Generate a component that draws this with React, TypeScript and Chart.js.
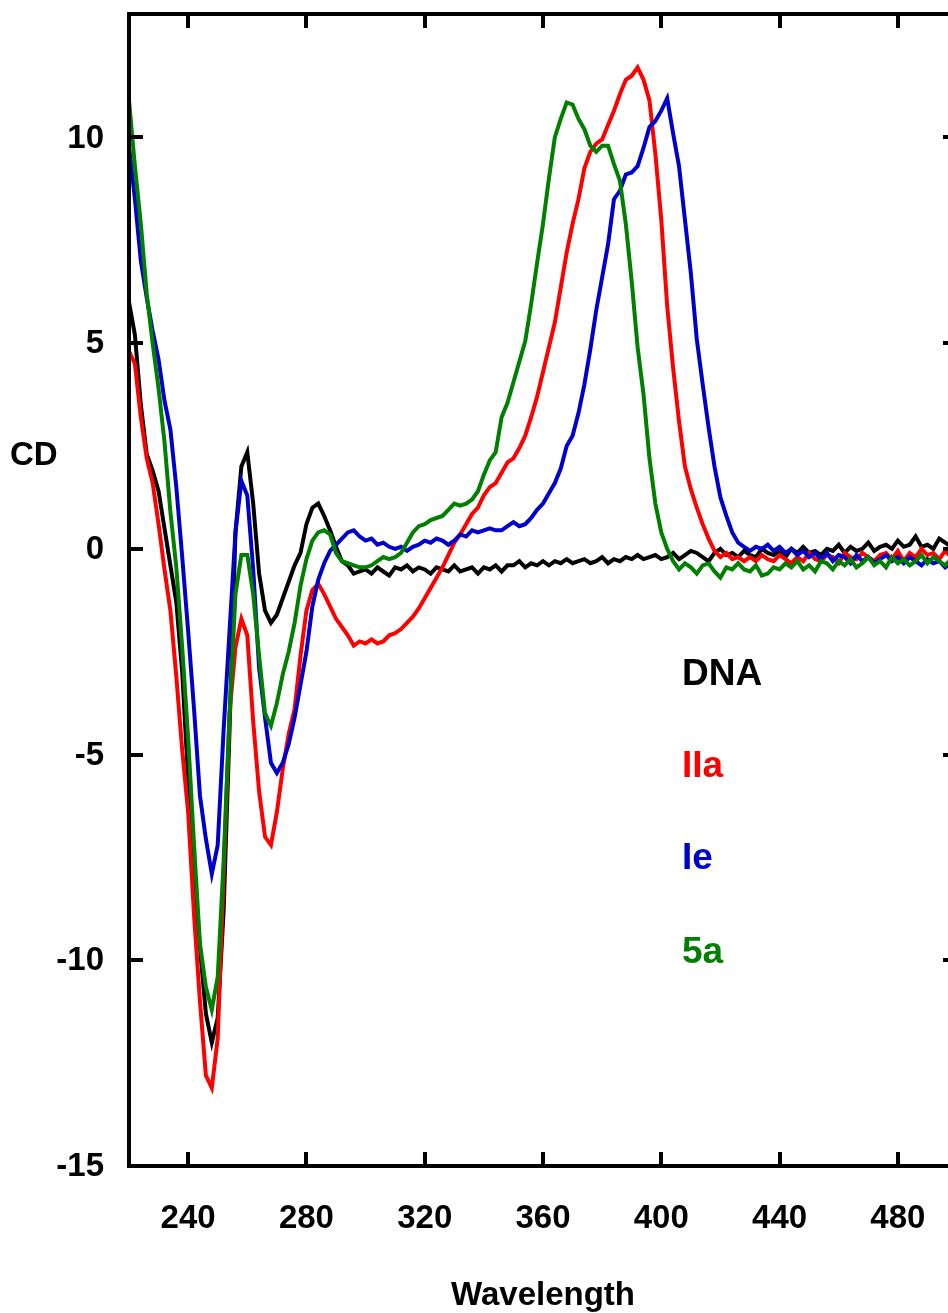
import { useEffect, useRef } from "react";
import { Chart, registerables } from "chart.js";

Chart.register(...registerables);

const wavelengths = [
  220, 222, 224, 226, 228, 230, 232, 234, 236, 238,
  240, 242, 244, 246, 248, 250, 252, 254, 256, 258,
  260, 262, 264, 266, 268, 270, 272, 274, 276, 278,
  280, 282, 284, 286, 288, 290, 292, 294, 296, 298,
  300, 302, 304, 306, 308, 310, 312, 314, 316, 318,
  320, 322, 324, 326, 328, 330, 332, 334, 336, 338,
  340, 342, 344, 346, 348, 350, 352, 354, 356, 358,
  360, 362, 364, 366, 368, 370, 372, 374, 376, 378,
  380, 382, 384, 386, 388, 390, 392, 394, 396, 398,
  400, 402, 404, 406, 408, 410, 412, 414, 416, 418,
  420, 422, 424, 426, 428, 430, 432, 434, 436, 438,
  440, 442, 444, 446, 448, 450, 452, 454, 456, 458,
  460, 462, 464, 466, 468, 470, 472, 474, 476, 478,
  480, 482, 484, 486, 488, 490, 492, 494, 496, 498,
  500,
];

const dnaCD = [
  6.0, 5.2, 3.5, 2.3, 1.9, 1.4, 0.5, -0.4, -1.3, -3.0,
  -5.6, -7.9, -9.7, -11.3, -12.0, -11.4, -8.8, -4.4, 0.4, 2.0,
  2.35, 1.1, -0.6, -1.5, -1.8, -1.6, -1.2, -0.8, -0.4, -0.1,
  0.6, 1.0, 1.1, 0.8, 0.45, 0.05, -0.3, -0.4, -0.6, -0.55,
  -0.5, -0.6, -0.45, -0.55, -0.65, -0.45, -0.5, -0.4, -0.55, -0.45,
  -0.5, -0.6, -0.45, -0.5, -0.55, -0.4, -0.55, -0.5, -0.45, -0.6,
  -0.45, -0.5, -0.4, -0.55, -0.4, -0.4, -0.3, -0.45, -0.35, -0.4,
  -0.3, -0.4, -0.3, -0.35, -0.25, -0.35, -0.3, -0.25, -0.35, -0.3,
  -0.2, -0.35, -0.25, -0.3, -0.2, -0.25, -0.15, -0.25, -0.2, -0.15,
  -0.25, -0.2, -0.1, -0.25, -0.15, -0.05, -0.1, -0.2, -0.3, -0.1,
  0.0, -0.15, -0.1, -0.2, -0.05, -0.15, -0.2, 0.0, -0.1, -0.15,
  -0.05, -0.2, 0.0, -0.1, 0.05, -0.1, -0.05, -0.15, 0.0, -0.05,
  0.1, -0.1, 0.05, -0.05, 0.0, 0.15, -0.05, 0.05, 0.1, 0.0,
  0.2, 0.05, 0.1, 0.3, 0.05, 0.1, 0.0, 0.25, 0.15, 0.05,
  0.2,
];

const iiaCD = [
  4.8, 4.5, 3.2, 2.2, 1.6, 0.6, -0.5, -1.5, -3.1, -4.9,
  -6.4, -8.9, -11.0, -12.8, -13.1, -11.9, -7.9, -4.0, -2.4, -1.7,
  -2.1, -4.2, -5.9, -7.0, -7.2, -6.4, -5.35, -4.5, -3.9, -2.6,
  -1.5, -1.0, -0.85, -1.1, -1.4, -1.7, -1.9, -2.1, -2.35, -2.25,
  -2.3, -2.2, -2.3, -2.25, -2.1, -2.05, -1.95, -1.8, -1.65, -1.45,
  -1.2, -0.95, -0.7, -0.45, -0.15, 0.15, 0.35, 0.6, 0.85, 1.0,
  1.3, 1.5, 1.6, 1.85, 2.1, 2.2, 2.45, 2.75, 3.2, 3.7,
  4.3, 4.9, 5.5, 6.35, 7.2, 7.9, 8.5, 9.25, 9.65, 9.85,
  9.95, 10.3, 10.65, 11.05, 11.4, 11.5, 11.7, 11.4, 10.9, 9.6,
  8.0, 5.9, 4.4, 3.1, 2.0, 1.45, 1.0, 0.6, 0.25, -0.05,
  -0.2, -0.1, -0.25, -0.2, -0.3, -0.2, -0.3, -0.15, -0.25, -0.3,
  -0.15, -0.25, -0.35, -0.2, -0.3, -0.1, -0.25, -0.3, -0.15, -0.2,
  -0.35, -0.1, -0.2, -0.25, -0.1, -0.2, -0.3, -0.15, -0.1, -0.25,
  -0.05, -0.3, -0.1, -0.2, 0.0, -0.15, -0.1, -0.25, -0.05, -0.2,
  -0.1,
];

const ieCD = [
  9.8, 8.5, 7.0, 6.1, 5.3, 4.6, 3.6, 2.9, 1.5, -0.2,
  -2.0, -3.9, -6.0, -7.05, -7.9, -7.2, -4.4, -2.0, 0.4, 1.65,
  1.3, -0.5, -2.9, -4.1, -5.2, -5.45, -5.2, -4.75, -4.1, -3.3,
  -2.5, -1.4, -0.75, -0.35, -0.05, 0.1, 0.25, 0.4, 0.45, 0.3,
  0.2, 0.25, 0.1, 0.15, 0.05, 0.0, 0.05, -0.05, 0.05, 0.1,
  0.2, 0.15, 0.25, 0.2, 0.1, 0.2, 0.35, 0.3, 0.45, 0.4,
  0.45, 0.5, 0.45, 0.45, 0.55, 0.65, 0.55, 0.6, 0.75, 0.95,
  1.1, 1.35, 1.6, 1.95, 2.5, 2.75, 3.3, 4.0, 4.85, 5.8,
  6.6, 7.4, 8.5, 8.7, 9.1, 9.15, 9.3, 9.75, 10.25, 10.4,
  10.65, 10.95, 10.1, 9.3, 8.0, 6.7, 5.1, 4.0, 2.95, 2.0,
  1.25, 0.8, 0.4, 0.15, 0.05, -0.05, 0.05, 0.0, 0.1, -0.05,
  0.05, -0.1, 0.0, -0.15, -0.05, -0.2, -0.1, -0.25, -0.1, -0.3,
  -0.15, -0.2, -0.35, -0.15, -0.3, -0.2, -0.35, -0.25, -0.15, -0.3,
  -0.2, -0.35, -0.2, -0.3, -0.4, -0.25, -0.35, -0.3, -0.45, -0.35,
  -0.4,
];

const fiveACD = [
  10.9, 9.3, 7.9, 6.2, 5.0, 3.9, 2.6, 0.9, -0.45, -2.4,
  -4.6, -7.2, -9.6, -10.65, -11.2, -10.4, -7.6, -4.0, -1.1, -0.15,
  -0.15, -1.1, -2.6, -4.0, -4.3, -3.75, -3.05, -2.5, -1.8, -0.9,
  -0.25, 0.2, 0.4, 0.45, 0.35, -0.1, -0.3, -0.35, -0.4, -0.45,
  -0.45, -0.4, -0.3, -0.2, -0.25, -0.2, -0.1, 0.15, 0.4, 0.55,
  0.6, 0.7, 0.75, 0.8, 0.95, 1.1, 1.05, 1.1, 1.2, 1.4,
  1.8, 2.15, 2.35, 3.2, 3.55, 4.05, 4.55, 5.05, 5.95, 6.95,
  7.9, 9.0, 10.0, 10.45, 10.85, 10.8, 10.45, 10.2, 9.8, 9.65,
  9.8, 9.8, 9.35, 8.95, 7.9, 6.5, 4.9, 3.75, 2.2, 1.1,
  0.4, 0.0, -0.3, -0.5, -0.35, -0.45, -0.6, -0.4, -0.35, -0.55,
  -0.7, -0.45, -0.5, -0.35, -0.5, -0.55, -0.4, -0.65, -0.6, -0.45,
  -0.5, -0.35, -0.45, -0.3, -0.5, -0.4, -0.55, -0.3, -0.35, -0.5,
  -0.3, -0.4, -0.25, -0.45, -0.35, -0.2, -0.4, -0.3, -0.45, -0.2,
  -0.35, -0.25, -0.4, -0.3, -0.15, -0.35, -0.2, -0.3, -0.4, -0.25,
  -0.35,
];

const seriesNames = ["DNA", "IIa", "Ie", "5a"];
const seriesColors = ["#000000", "#FF0000", "#0000CC", "#008000"];
const seriesValues = [dnaCD, iiaCD, ieCD, fiveACD];
const seriesOrder = [4, 3, 2, 1];

const xTicks = [240, 280, 320, 360, 400, 440, 480];
const yTicks = [-15, -10, -5, 0, 5, 10];
const xRange = [220, 500];
const yRange = [-15, 13];

const FONT = '"Liberation Sans", Arial, Helvetica, sans-serif';

const framePlugin = {
  id: "cdFrame",
  afterDraw(chart: any) {
    const { ctx, chartArea: a, scales } = chart;
    const x = scales.x;
    const y = scales.y;
    ctx.save();
    ctx.strokeStyle = "#000";
    ctx.lineWidth = 4;
    ctx.lineCap = "butt";
    ctx.strokeRect(a.left, a.top, a.right - a.left, a.bottom - a.top);
    const tl = 14;
    ctx.beginPath();
    for (const v of xTicks) {
      const px = Math.round(x.getPixelForValue(v));
      ctx.moveTo(px, a.bottom);
      ctx.lineTo(px, a.bottom - tl);
      ctx.moveTo(px, a.top);
      ctx.lineTo(px, a.top + tl);
    }
    for (const v of yTicks) {
      const py = Math.round(y.getPixelForValue(v));
      ctx.moveTo(a.left, py);
      ctx.lineTo(a.left + tl, py);
      ctx.moveTo(a.right, py);
      ctx.lineTo(a.right - tl, py);
    }
    ctx.stroke();

    ctx.fillStyle = "#000";
    ctx.font = `bold 33px ${FONT}`;
    ctx.textBaseline = "middle";
    ctx.textAlign = "center";
    for (const v of xTicks) {
      ctx.fillText(String(v), x.getPixelForValue(v), a.bottom + 53);
    }
    ctx.textAlign = "right";
    for (const v of yTicks) {
      ctx.fillText(String(v), a.left - 25, y.getPixelForValue(v) + 1);
    }
    ctx.textAlign = "left";
    ctx.fillText("CD", 10, 456);
    ctx.textAlign = "center";
    ctx.fillText("Wavelength", (a.left + a.right) / 2, a.bottom + 130);

    ctx.font = `bold 37px ${FONT}`;
    ctx.textAlign = "left";
    const legendY = [675, 767, 859, 953];
    seriesNames.forEach((n, i) => {
      ctx.fillStyle = seriesColors[i];
      ctx.fillText(n, 682, legendY[i]);
    });
    ctx.restore();
  },
};

export default function App() {
  const ref = useRef<HTMLCanvasElement | null>(null);
  useEffect(() => {
    if (!ref.current) return;
    const chart = new Chart(ref.current, {
      type: "line",
      data: {
        datasets: seriesValues.map((vals, i) => ({
          label: seriesNames[i],
          data: vals.map((v, j) => ({ x: wavelengths[j], y: v })),
          borderColor: seriesColors[i],
          backgroundColor: seriesColors[i],
          borderWidth: 4,
          pointRadius: 0,
          tension: 0,
          fill: false,
          order: seriesOrder[i],
        })),
      },
      options: {
        animation: false,
        responsive: false,
        maintainAspectRatio: false,
        devicePixelRatio: 1,
        layout: { padding: { left: 129, top: 14, right: 43, bottom: 147 } },
        plugins: {
          legend: { display: false },
          tooltip: { enabled: false },
          title: { display: false },
        },
        scales: {
          x: { type: "linear", min: xRange[0], max: xRange[1], display: false },
          y: { type: "linear", min: yRange[0], max: yRange[1], display: false },
        },
      },
      plugins: [framePlugin],
    });
    return () => chart.destroy();
  }, []);
  return (
    <div
      style={{
        position: "fixed",
        left: 0,
        top: 0,
        width: 948,
        height: 1313,
        overflow: "hidden",
        background: "#fff",
      }}
    >
      <canvas ref={ref} width={1000} height={1313} style={{ display: "block" }} />
    </div>
  );
}
